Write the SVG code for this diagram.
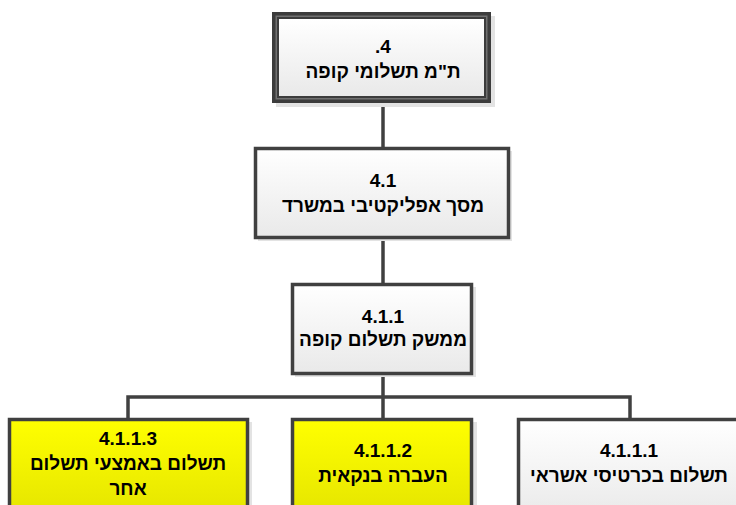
<svg xmlns="http://www.w3.org/2000/svg" width="736" height="505" viewBox="0 0 736 505">
<style>
.box{stroke:#404040;stroke-width:3.5}
.w{fill:url(#gw)}
.y{fill:url(#gy)}
.sh{fill:#e3e3e3}
.t{font-family:"Liberation Sans",Arial,sans-serif;font-weight:bold;font-size:19px;fill:#000;text-anchor:middle}
.c{fill:none;stroke:#404040;stroke-width:3.5}
</style>
<defs>
<linearGradient id="gw" x1="0" y1="0" x2="0" y2="1">
<stop offset="0" stop-color="#ffffff"/>
<stop offset="1" stop-color="#e9e9e9"/>
</linearGradient>
<linearGradient id="gy" x1="0" y1="0" x2="0" y2="1">
<stop offset="0" stop-color="#ffff00"/>
<stop offset="1" stop-color="#e4e400"/>
</linearGradient>
</defs>
<g id="connectors">
<path class="c" d="M383 103 V147"/>
<path class="c" d="M383 239 V283"/>
<path class="c" d="M383 375 V397"/>
<path class="c" d="M128 418 V397 H630 V418"/>
<path class="c" d="M383 397 V418"/>
</g>
<g id="n4">
<rect class="sh" x="276" y="16" width="219" height="91"/>
<rect x="272" y="12" width="219" height="91" fill="#3c3c3c"/>
<rect x="275.5" y="15.5" width="212" height="84" fill="#707070"/>
<rect x="277" y="17" width="209" height="81" fill="#3c3c3c"/>
<rect class="w" x="279" y="19" width="205" height="77"/>
<text class="t" x="383" y="53">.4</text>
<text class="t" x="383" y="78">ת"מ תשלומי קופה</text>
</g>
<g id="n41">
<rect class="sh" x="258" y="151" width="254" height="90"/>
<rect class="box w" x="255.5" y="148.5" width="253" height="89"/>
<text class="t" x="383" y="187">4.1</text>
<text class="t" x="383" y="212">מסך אפליקטיבי במשרד</text>
</g>
<g id="n411">
<rect class="sh" x="295" y="287" width="181" height="90"/>
<rect class="box w" x="292.5" y="284.5" width="179" height="89"/>
<text class="t" x="383" y="323">4.1.1</text>
<text class="t" x="383" y="346">ממשק תשלום קופה</text>
</g>
<g id="n4113">
<rect class="sh" x="12" y="422" width="240" height="90"/>
<rect class="box y" x="9.5" y="419.5" width="238" height="100"/>
<text class="t" x="128" y="445">4.1.1.3</text>
<text class="t" x="128" y="470">תשלום באמצעי תשלום</text>
<text class="t" x="128" y="495">אחר</text>
</g>
<g id="n4112">
<rect class="sh" x="296" y="422" width="181" height="90"/>
<rect class="box y" x="292.5" y="419.5" width="179" height="100"/>
<text class="t" x="383" y="457">4.1.1.2</text>
<text class="t" x="383" y="482">העברה בנקאית</text>
</g>
<g id="n4111">
<rect class="sh" x="522" y="422" width="222" height="90"/>
<rect class="box w" x="518.5" y="419.5" width="222" height="100"/>
<text class="t" x="629" y="457">4.1.1.1</text>
<text class="t" x="629" y="482">תשלום בכרטיסי אשראי</text>
</g>
</svg>
